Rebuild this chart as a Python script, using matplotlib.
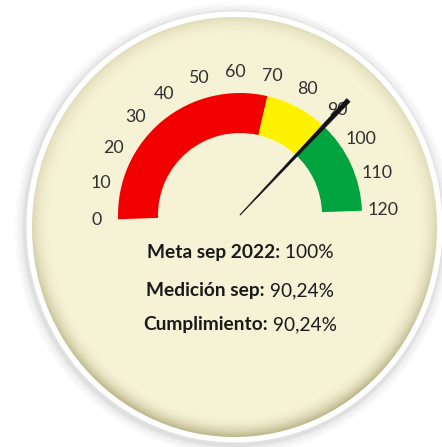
import numpy as np
import matplotlib
matplotlib.use('Agg')
import matplotlib.pyplot as plt
from matplotlib.patches import Wedge, Ellipse, Polygon

# ---- data ----
band_starts = [0, 70, 90]
band_ends = [70, 90, 120]
band_colors = ['#F20000', '#FFF200', '#00A33E']
tick_values = list(range(0, 121, 10))
needle_value = 90.24
scale_max = 120
label_bold = ['Meta sep 2022:', 'Medición sep:', 'Cumplimiento:']
label_values = ['100%', '90,24%', '90,24%']

W, H = 442, 447
fig = plt.figure(figsize=(W / 100, H / 100), dpi=100)
fig.patch.set_facecolor('white')
ax = fig.add_axes([0, 0, 1, 1])
ax.set_xlim(0, W)
ax.set_ylim(0, H)
ax.axis('off')

FONT = ['Lato', 'DejaVu Sans']

# ---- dial background ----
cx, cy = 234.5, H - 227
rx, ry = 202.5, 210
for grow, a in [(16, 0.035), (13, 0.045), (10, 0.06), (8, 0.08)]:
    ax.add_patch(Ellipse((cx - 1, cy - 2), 2 * (rx + grow), 2 * (ry + grow),
                         facecolor='#6a6a6a', alpha=a, lw=0))
ax.add_patch(Ellipse((cx, cy), 2 * (rx + 6), 2 * (ry + 6), facecolor='white',
                     edgecolor='#e4e4e4', lw=0.8))
face = Ellipse((cx, cy), 2 * rx, 2 * ry, facecolor='#F6F2D5', lw=0)
ax.add_patch(face)

nx, ny = 420, 440
xs = np.linspace(cx - rx, cx + rx, nx)
ys = np.linspace(cy - ry, cy + ry, ny)
X, Y = np.meshgrid(xs, ys)
R = np.sqrt(((X - cx) / rx) ** 2 + ((Y - cy) / ry) ** 2)
edge = np.clip((R - 0.90) / 0.10, 0, 1) ** 2.2
bottom = 0.35 + 0.65 * np.clip(-(Y - cy) / ry + 0.2, 0, 1)
alpha = np.clip(edge * bottom * 0.6, 0, 1)
img = np.zeros((ny, nx, 4))
img[..., 0] = 150 / 255
img[..., 1] = 142 / 255
img[..., 2] = 90 / 255
img[..., 3] = alpha
im = ax.imshow(img, extent=(cx - rx, cx + rx, cy - ry, cy + ry), origin='lower',
               aspect='auto', interpolation='bilinear', zorder=2)
im.set_clip_path(face)

# ---- gauge ----
gx, gy = 240, H - 215
r_out, width = 122, 40
r_lab = 143
tilt = 2.0


def ang(v):
    return 180 - v / scale_max * 180 + tilt


for s, e, c in zip(band_starts, band_ends, band_colors):
    ax.add_patch(Wedge((gx, gy), r_out, ang(e), ang(s), width=width,
                       facecolor=c, edgecolor='none', zorder=3))

for v in tick_values:
    a = np.radians(ang(v))
    ax.text(gx + r_lab * np.cos(a), gy + r_lab * np.sin(a), str(v),
            ha='center', va='center', fontsize=12.8, color='#303030',
            family=FONT, zorder=4)

# needle
a = np.radians(ang(needle_value))
L = 158
ux, uy = np.cos(a), np.sin(a)
px, py = -uy, ux
pts = [(gx + px * 0.3, gy + py * 0.3),
       (gx + ux * L + px * 2.4, gy + uy * L + py * 2.4),
       (gx + ux * L - px * 2.4, gy + uy * L - py * 2.4),
       (gx - px * 0.3, gy - py * 0.3)]
ax.add_patch(Polygon(pts, closed=True, facecolor='#111111', edgecolor='#111111',
                     lw=0.3, zorder=5))

# ---- text lines ----
baselines = [H - 258, H - 296, H - 330]
fig.canvas.draw()
renderer = fig.canvas.get_renderer()
for yb, lb, lv in zip(baselines, label_bold, label_values):
    t1 = ax.text(0, yb, lb, ha='left', va='baseline', fontsize=13.8,
                 fontweight='bold', color='#1a1a1a', family=FONT, zorder=6)
    t2 = ax.text(0, yb, ' ' + lv, ha='left', va='baseline', fontsize=13.8,
                 color='#1a1a1a', family=FONT, zorder=6)
    w1 = t1.get_window_extent(renderer).width
    w2 = t2.get_window_extent(renderer).width
    x0 = gx - (w1 + w2) / 2
    t1.set_x(x0)
    t2.set_x(x0 + w1)

fig.savefig('out.png', dpi=100, facecolor='white')
